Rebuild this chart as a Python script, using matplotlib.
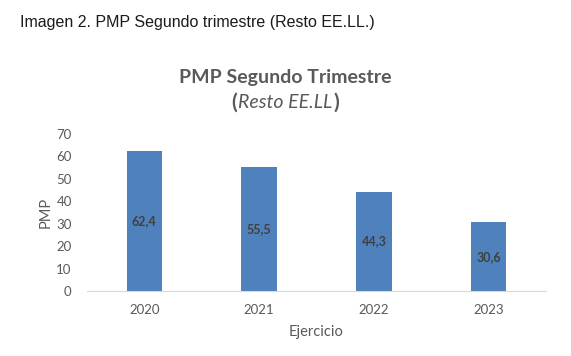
import matplotlib
matplotlib.use("Agg")
import matplotlib.pyplot as plt

years = ["2020", "2021", "2022", "2023"]
pmp = [62.4, 55.5, 44.3, 30.6]
value_labels = ["62,4", "55,5", "44,3", "30,6"]
yticks = [0, 10, 20, 30, 40, 50, 60, 70]

grey = "#595959"
fig = plt.figure(figsize=(5.71, 3.56), dpi=100)
fig.patch.set_facecolor("white")
ax = fig.add_axes([87/571, (356-291)/356, 459/571, 157/356])

x = list(range(len(years)))
ax.bar(x, pmp, width=0.31, color="#4F81BD", zorder=2)
for xi, v, lab in zip(x, pmp, value_labels):
    ax.text(xi, v/2, lab, ha="center", va="center", fontsize=9,
            color="#404040", family="Lato", fontweight="bold")

ax.set_xlim(-0.5, 3.5)
ax.set_ylim(0, 70)
ax.set_yticks(yticks)
ax.set_xticks(x)
ax.set_xticklabels(years)
for s in ["top", "right", "left"]:
    ax.spines[s].set_visible(False)
ax.spines["bottom"].set_color("#d9d9d9")
ax.tick_params(axis="both", length=0, colors=grey, labelsize=9.5)
ax.tick_params(axis="x", pad=9)
ax.tick_params(axis="y", pad=11)
for t in ax.get_xticklabels() + ax.get_yticklabels():
    t.set_family("Lato")
ax.set_ylabel("PMP", fontsize=10.5, color=grey, family="Lato", labelpad=3)
ax.set_xlabel("Ejercicio", fontsize=10.5, color=grey, family="Lato", labelpad=7)

fig.text(20/571, 1 - 23/356, "Imagen 2. PMP Segundo trimestre (Resto EE.LL.)",
         fontsize=11.5, family="Liberation Sans", color="#1a1a1a", va="center", ha="left")
fig.text(0.5, 1 - 78/356, "PMP Segundo Trimestre", fontsize=14, fontweight="bold",
         family="Lato", color=grey, ha="center", va="center")

# second title line with mixed styles
fig.canvas.draw()
r = fig.canvas.get_renderer()
yl = 1 - 103/356
parts = [("(", "normal", "bold", 15), ("Resto EE.LL", "italic", "normal", 14), (")", "normal", "bold", 15)]
texts = []
widths = []
for s, st, wt, fs in parts:
    t = fig.text(0, yl, s, fontsize=fs, fontstyle=st, fontweight=wt, family="Lato",
                 color=grey, ha="left", va="center")
    texts.append(t)
    widths.append(t.get_window_extent(r).width)
total = sum(widths) + 2
xpos = (fig.bbox.width - total) / 2
for t, w in zip(texts, widths):
    t.set_x(xpos / fig.bbox.width)
    xpos += w + 1

fig.savefig("out.png", dpi=100, facecolor="white")
